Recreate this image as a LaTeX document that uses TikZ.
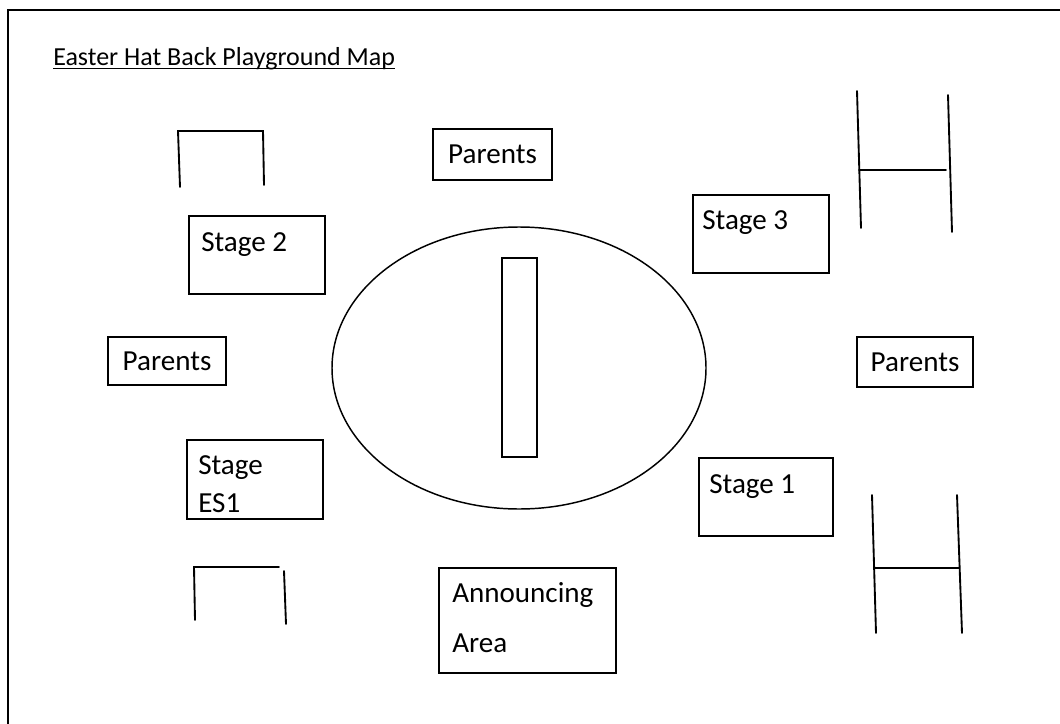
\documentclass[tikz,border=0pt]{standalone}
\usepackage{fontspec}
\setmainfont{Carlito}
\usetikzlibrary{shapes.geometric,fit}

\begin{document}
\begin{tikzpicture}[x=0.75pt, y=-0.75pt,
    box/.style={rectangle, draw=black, line width=1.1pt, inner sep=0pt},
    lbl/.style={inner sep=0pt, font=\fontsize{21.8}{26}\selectfont},
    post/.style={line width=1.4pt, line cap=round}]
    \useasboundingbox (0,0) rectangle (1060,724);

    % page frame (only top and left edges show)
    \draw[line width=1.5pt] (8,724) -- (8,10) -- (1060,10);

    % title
    \node [lbl, anchor=base west, font=\fontsize{19.5}{23}\selectfont] (title) at (53,65) {Easter Hat Back Playground Map};
    \draw [line width=0.8pt] ([yshift=-2.6pt]title.base west) -- ([yshift=-2.6pt]title.base east);

    % centre field
    \node [ellipse, draw=black, line width=1.1pt, inner sep=0pt, minimum width=280.5pt, minimum height=211.5pt] (field) at (519,368) {};
    \node [box, fit={(502,258) (537,457)}] (strip) {};

    % parents areas
    \node [box, fit={(433,129) (552,180)}] (parentsT) {};
    \node [lbl] at (parentsT) {Parents};
    \node [box, fit={(108,337) (226,385)}] (parentsL) {};
    \node [lbl] at (parentsL) {Parents};
    \node [box, fit={(857,337) (973,387)}] (parentsR) {};
    \node [lbl] at (parentsR) {Parents};

    % stages
    \node [box, fit={(189,216) (325,294)}] (stage2) {};
    \node [lbl, anchor=base west] at (201,251) {Stage 2};
    \node [box, fit={(693,195) (829,273)}] (stage3) {};
    \node [lbl, anchor=base west] at (702,229) {Stage 3};
    \node [box, fit={(187,440) (323,519)}] (stageES) {};
    \node [lbl, anchor=base west, align=left, font=\fontsize{21.8}{28.5}\selectfont] at (198,512) {Stage\\ES1};
    \node [box, fit={(699,458) (833,536)}] (stage1) {};
    \node [lbl, anchor=base west] at (709,493) {Stage 1};

    % announcing
    \node [box, fit={(439,568) (616,673)}] (announce) {};
    \node [lbl, anchor=base west, align=left, font=\fontsize{21.8}{37.5}\selectfont] at (452,652) {Announcing\\Area};

    % goals
    \draw [post] (180,187) -- (178,131) -- (263,131) -- (264,185);
    \draw [post] (195,620) -- (194,567) -- (279,567);
    \draw [post] (284,571) -- (286,624);

    % rugby posts
    \draw [post] (857,91) -- (861,228);
    \draw [post] (948,95) -- (952,232);
    \draw [post] (859,170) -- (946,170);
    \draw [post] (872,495) -- (876,633);
    \draw [post] (957,495) -- (962,633);
    \draw [post] (874,568) -- (959,568);
\end{tikzpicture}
\end{document}
